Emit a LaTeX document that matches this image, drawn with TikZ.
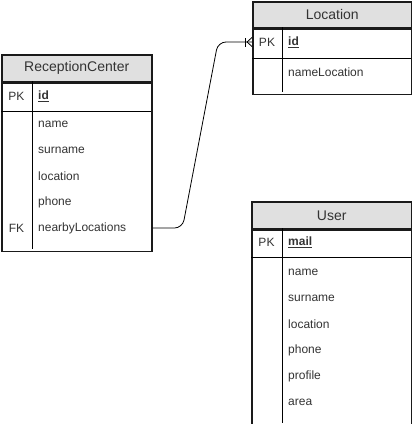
\documentclass[tikz,border=0pt]{standalone}
\usepackage{fontspec}
\setmainfont{Liberation Sans}
\usetikzlibrary{positioning}
\definecolor{headgray}{HTML}{E0E0E0}
\definecolor{linegray}{HTML}{1A1A1A}
\definecolor{textgray}{HTML}{333333}
\tikzset{
  erbox/.style = {draw=linegray, line width=1.5pt, anchor=north west,
    inner sep=0pt},
  erhead/.style = {erbox, fill=headgray, text=textgray,
    font=\fontsize{14}{16}\selectfont},
  erline/.style = {draw=black, line width=0.9pt},
  erkey/.style = {anchor=center, inner sep=0pt, text=textgray,
    font=\fontsize{12}{14}\selectfont},
  erfield/.style = {erkey, anchor=west},
  erlink/.style = {draw=black, line width=0.8pt}}

\begin{document}
\begin{tikzpicture}[x=1pt,y=-1pt]
\useasboundingbox (0,0) rectangle (412,424);

% ReceptionCenter
\node [erhead, minimum width=150pt, minimum height=27pt] (rc) at (1,54) {ReceptionCenter};
\node [erbox, minimum width=150pt, minimum height=168pt] (rc-body) at (rc.south west) {};
\draw [erline] (1,111) -- (151,111);
\draw [erline] (32,81) -- (32,249);
\node [erkey] (rc-pkkey) at (16.5,96) {PK};
\node [erfield] (rc-id) at (38,96) {\textbf{\underline{id}}};
\foreach \f [count=\i] in {name,surname,location,phone}
  \node [erfield] (rc-\f) at (38,98+26*\i) {\f};
\node [erkey] (rc-fkkey) at (16.5,228) {FK};
\node [erfield] (rc-fk) at (38,228) {nearbyLocations};

% Location
\node [erhead, minimum width=159pt, minimum height=26pt] (loc) at (252,1) {Location};
\node [erbox, minimum width=159pt, minimum height=65pt] (loc-body) at (loc.south west) {};
\draw [erline] (252,58) -- (411,58);
\draw [erline] (282,27) -- (282,92);
\node [erkey] (loc-pkkey) at (267,42) {PK};
\node [erfield] (loc-pk) at (288,42) {\textbf{\underline{id}}};
\node [erfield] (loc-name) at (288,72) {nameLocation};

% User
\node [erhead, minimum width=160pt, minimum height=27pt] (usr) at (251,201) {User};
\node [erbox, minimum width=160pt, minimum height=195pt] (usr-body) at (usr.south west) {};
\draw [erline] (251,257) -- (411,257);
\draw [erline] (282,228) -- (282,423);
\node [erkey] (usr-pkkey) at (266.5,242.5) {PK};
\node [erfield] (usr-pk) at (288,242.5) {\textbf{\underline{mail}}};
\foreach \f [count=\i] in {name,surname,location,phone,profile,area}
  \node [erfield] (usr-\f) at (288,246+26*\i) {\f};

% one-to-many link
\coordinate (rc-fk-out) at (rc-body.east |- rc-fk);
\coordinate (loc-pk-in) at (loc-body.west |- loc-pk);
\draw [erlink, rounded corners=8pt] (rc-fk-out) -- ++(30,0)
  -- ([xshift=-34pt]loc-pk-in) -- (loc-pk-in);
\draw [erlink] ([xshift=-7pt,yshift=-4.5pt]loc-pk-in) -- ([xshift=-7pt,yshift=4.5pt]loc-pk-in);
\draw [erlink] ([xshift=-5pt]loc-pk-in) -- ([yshift=-4.5pt]loc-pk-in);
\draw [erlink] ([xshift=-5pt]loc-pk-in) -- ([yshift=4.5pt]loc-pk-in);
\end{tikzpicture}
\end{document}
